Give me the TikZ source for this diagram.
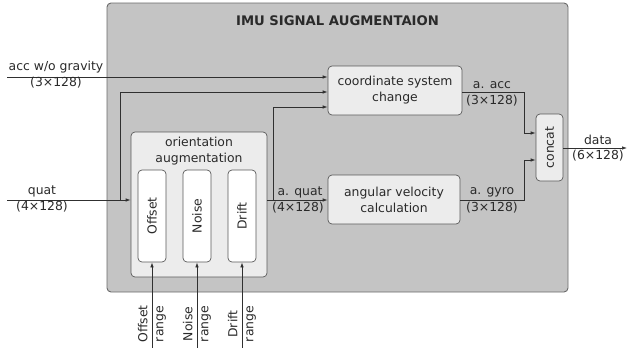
\documentclass[tikz,border=0pt]{standalone}
\usepackage{fontspec}
\setmainfont{DejaVu Sans}
\usetikzlibrary{arrows.meta}
\definecolor{outerfill}{HTML}{C4C4C4}
\definecolor{outerline}{HTML}{6A6A6A}
\definecolor{boxfill}{HTML}{ECECEC}
\definecolor{boxline}{HTML}{5A5A5A}
\definecolor{lineclr}{HTML}{303030}
\definecolor{textclr}{HTML}{2A2A2A}
\begin{document}
\begin{tikzpicture}[x=1pt,y=-1pt,
  font=\fontsize{12.4}{16}\selectfont,
  outerbox/.style={draw=outerline, fill=outerfill, rounded corners=4pt, line width=0.9pt, inner sep=0pt},
  procbox/.style={draw=boxline, fill=boxfill, rounded corners=4pt, line width=0.7pt, align=center, inner sep=0pt, text=textclr},
  subbox/.style={draw=boxline, fill=white, rounded corners=4pt, line width=0.7pt, minimum width=28pt, minimum height=92pt, inner sep=0pt},
  conn/.style={draw=lineclr, line width=0.7pt},
  arr/.style={conn, -{Latex[length=5pt,width=3.5pt]}},
  lbl/.style={inner sep=0pt, text=textclr, align=center},
]
\useasboundingbox (0,0) rectangle (627,348);

% outer container
\node[outerbox, minimum width=461pt, minimum height=289pt] (outer) at (337.5,147.5) {};
\node[lbl, font=\fontsize{13.2}{15}\selectfont\bfseries] (title) at (337.5,21) {IMU SIGNAL AUGMENTAION};

% process boxes
\node[procbox, minimum width=134pt, minimum height=49pt] (coord) at (395,90.5) {coordinate system\\change};
\node[procbox, minimum width=132pt, minimum height=49pt] (angular) at (394,199.5) {angular velocity\\calculation};
\node[procbox, minimum width=27pt, minimum height=67pt] (concat) at (549.5,147.5) {};
\node[lbl, rotate=90] (concatt) at (concat.center) {concat};

% orientation augmentation
\node[procbox, minimum width=136pt, minimum height=145pt] (orient) at (199,204.5) {};
\node[lbl] (orientt) at (199,151) {orientation\\augmentation};
\node[subbox] (offset) at (152,216) {};
\node[subbox] (noise) at (197,216) {};
\node[subbox] (drift) at (242,216) {};
\node[lbl, rotate=90] (offsett) at (offset.center) {Offset};
\node[lbl, rotate=90] (noiset) at (noise.center) {Noise};
\node[lbl, rotate=90] (driftt) at (drift.center) {Drift};

% inputs
\coordinate (accin) at (7,77);
\coordinate (quatin) at (7,200);
\coordinate (qb) at (120,200);
\coordinate (aqb) at (273,200);
\coordinate (accup) at (524,133);
\coordinate (gyrodown) at (524,160);
\coordinate (dataout) at (627,148);

\draw[arr] (accin) -- (accin -| coord.west);
\draw[arr] (quatin) -- (quatin -| orient.west);
\draw[arr] (qb) |- (coord.west |- 0,92);
\draw[arr] (orient.east |- 0,200) -- (angular.west |- 0,200);
\draw[arr] (aqb) |- (coord.west |- 0,107);
\draw[arr] (coord.east |- 0,92) -| (accup) -- (concat.west |- accup);
\draw[arr] (angular.east |- 0,200) -| (gyrodown) -- (concat.west |- gyrodown);
\draw[arr] (concat.east |- dataout) -- (dataout);

% range inputs
\coordinate (offin) at (152,348);
\coordinate (noisein) at (197,348);
\coordinate (driftin) at (242,348);
\draw[arr] (offin) -- (offset.south);
\draw[arr] (noisein) -- (noise.south);
\draw[arr] (driftin) -- (drift.south);
\node[lbl, rotate=90] (offr) at (152,324) {Offset\\range};
\node[lbl, rotate=90] (noiser) at (197,324) {Noise\\range};
\node[lbl, rotate=90] (driftr) at (242,324) {Drift\\range};

% edge labels
\node[lbl] (accl1) at (56,67) {acc w/o gravity};
\node[lbl] (accl2) at (56,83) {(3×128)};
\node[lbl] (quatl1) at (42,191) {quat};
\node[lbl] (quatl2) at (42,207) {(4×128)};
\node[lbl] (aquatl1) at (300,192) {a. quat};
\node[lbl] (aquatl2) at (298,208) {(4×128)};
\node[lbl] (aaccl1) at (492,85) {a. acc};
\node[lbl] (aaccl2) at (492,101) {(3×128)};
\node[lbl] (agyrol1) at (492,192) {a. gyro};
\node[lbl] (agyrol2) at (492,208) {(3×128)};
\node[lbl] (datal1) at (598,140) {data};
\node[lbl] (datal2) at (598,156) {(6×128)};
\end{tikzpicture}
\end{document}
